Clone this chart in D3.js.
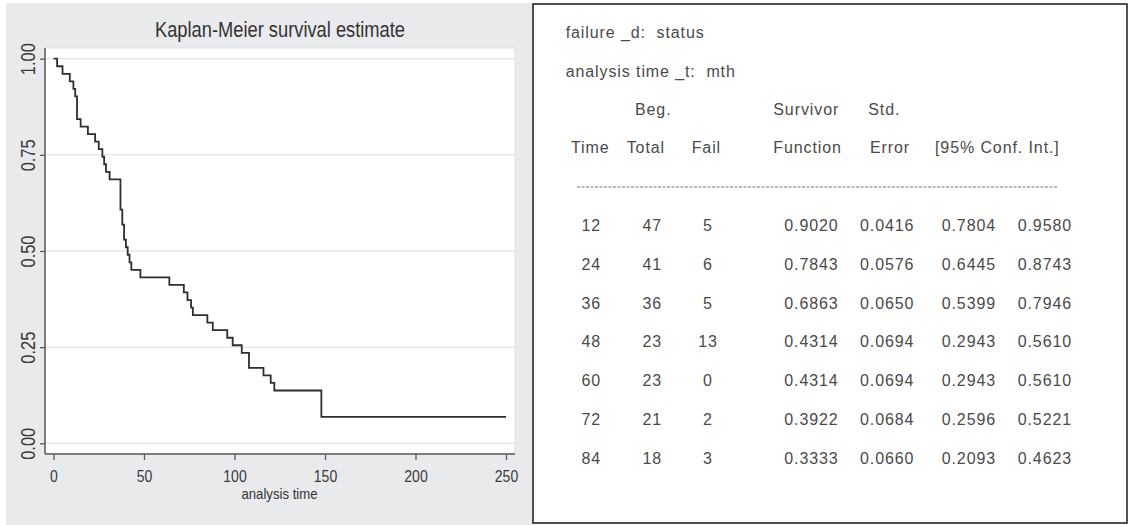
<!DOCTYPE html>
<html>
<head>
<meta charset="utf-8">
<script src="https://cdn.jsdelivr.net/npm/d3@7"></script>
<style>
  body { margin: 0; background: #fff; }
  svg { display: block; }
  .narrow { font-family: "Liberation Sans Narrow", "Arial Narrow", "Liberation Sans", sans-serif; }
  .tbl { font-family: "Liberation Sans", Arial, sans-serif; font-size: 16px; fill: #4a4a4a; letter-spacing: 0.9px; }
</style>
</head>
<body>
<div class="chart"></div>
<script>
// Kaplan-Meier step curve (time, survivor function after events)
var kmTime = [0, 2, 5, 9, 11, 12, 13, 15, 19, 23, 25, 27, 28, 29, 31, 37, 38, 39, 40, 41, 42, 43, 48,
  64, 72, 74, 76, 77, 85, 88, 96, 99, 104, 108, 116, 120, 122, 148, 250];
var kmSurv = [1.0000, 0.9804, 0.9608, 0.9412, 0.9216, 0.9020, 0.8431, 0.8235, 0.8039, 0.7843, 0.7647,
  0.7451, 0.7255, 0.7059, 0.6863, 0.6078, 0.5686, 0.5294, 0.5098, 0.4902, 0.4706, 0.4510, 0.4314,
  0.4118, 0.3922, 0.3725, 0.3529, 0.3333, 0.3137, 0.2941, 0.2745, 0.2549, 0.2353, 0.1961, 0.1765,
  0.1569, 0.1373, 0.0686, 0.0686];

var xTicks = [0, 50, 100, 150, 200, 250];
var yTicks = [0, 0.25, 0.5, 0.75, 1];

// sts list table
var tblTime = [12, 24, 36, 48, 60, 72, 84];
var tblBeg = [47, 41, 36, 23, 23, 21, 18];
var tblFail = [5, 6, 5, 13, 0, 2, 3];
var tblSurv = ["0.9020", "0.7843", "0.6863", "0.4314", "0.4314", "0.3922", "0.3333"];
var tblErr = ["0.0416", "0.0576", "0.0650", "0.0694", "0.0694", "0.0684", "0.0660"];
var tblLo = ["0.7804", "0.6445", "0.5399", "0.2943", "0.2943", "0.2596", "0.2093"];
var tblHi = ["0.9580", "0.8743", "0.7946", "0.5610", "0.5610", "0.5221", "0.4623"];

var svg = d3.select(".chart")
  .append("svg")
  .attr("width", 1129)
  .attr("height", 525);

// ---- left panel: the graph ----
svg.append("rect")
  .attr("x", 6).attr("y", 3)
  .attr("width", 527).attr("height", 522)
  .attr("fill", "#e9eaec");

var plot = { left: 45, right: 515, top: 48, bottom: 454 };

svg.append("rect")
  .attr("x", plot.left).attr("y", plot.top)
  .attr("width", plot.right - plot.left).attr("height", plot.bottom - plot.top)
  .attr("fill", "#fff")
  .attr("stroke", "#dcdde0")
  .attr("stroke-width", 1);

var xScale = d3.scaleLinear().domain([0, 250]).range([53.5, 506]);
var yScale = d3.scaleLinear().domain([0, 1]).range([443.3, 58.7]);

// grid lines
svg.append("g")
  .selectAll("line")
  .data(yTicks)
  .enter()
  .append("line")
  .attr("x1", plot.left).attr("x2", plot.right)
  .attr("y1", d => yScale(d)).attr("y2", d => yScale(d))
  .attr("stroke", "#e6e7e9")
  .attr("stroke-width", 1.5);

// axes
var leftAxis = d3.axisLeft(yScale)
  .tickValues(yTicks)
  .tickFormat(d3.format(".2f"))
  .tickSize(5)
  .tickPadding(0);

var bottomAxis = d3.axisBottom(xScale)
  .tickValues(xTicks)
  .tickSize(6)
  .tickPadding(11);

var gy = svg.append("g")
  .attr("transform", `translate(${plot.left}, 0)`)
  .call(leftAxis);
gy.select(".domain").attr("d", `M0,${plot.top}V${plot.bottom}`);

var gx = svg.append("g")
  .attr("transform", `translate(0, ${plot.bottom})`)
  .call(bottomAxis);
gx.select(".domain").attr("d", `M${plot.left},0H${plot.right}`);

[gx, gy].forEach(function(g) {
  g.select(".domain").attr("stroke", "#5a5a5a").attr("stroke-width", 1.5);
  g.selectAll(".tick line").attr("stroke", "#5a5a5a").attr("stroke-width", 1.3);
});

gx.selectAll(".tick text")
  .attr("class", "narrow")
  .attr("font-size", 16)
  .attr("fill", "#3a3a3a")
  .attr("textLength", d => String(d).length * 7.8)
  .attr("lengthAdjust", "spacingAndGlyphs");

gy.selectAll(".tick text")
  .attr("class", "narrow")
  .attr("font-size", 20)
  .attr("fill", "#3a3a3a")
  .attr("text-anchor", "middle")
  .attr("transform", "rotate(-90)")
  .attr("x", 0)
  .attr("y", -10)
  .attr("dy", 0)
  .attr("textLength", 32)
  .attr("lengthAdjust", "spacingAndGlyphs");

// survival curve
var kmData = kmTime.map((t, i) => ({ t: t, s: kmSurv[i] }));
var stepLine = d3.line()
  .x(d => xScale(d.t))
  .y(d => yScale(d.s))
  .curve(d3.curveStepAfter);

svg.append("path")
  .datum(kmData)
  .attr("d", stepLine)
  .attr("fill", "none")
  .attr("stroke", "#2e2e2e")
  .attr("stroke-width", 1.8);

// titles
svg.append("text")
  .attr("class", "narrow")
  .attr("x", 280).attr("y", 37)
  .attr("text-anchor", "middle")
  .attr("font-size", 22)
  .attr("fill", "#333")
  .attr("textLength", 250)
  .attr("lengthAdjust", "spacingAndGlyphs")
  .text("Kaplan-Meier survival estimate");

svg.append("text")
  .attr("class", "narrow")
  .attr("x", 279.5).attr("y", 499)
  .attr("text-anchor", "middle")
  .attr("font-size", 15)
  .attr("fill", "#333")
  .attr("textLength", 76)
  .attr("lengthAdjust", "spacingAndGlyphs")
  .text("analysis time");

// ---- right panel: the table ----
svg.append("rect")
  .attr("x", 533).attr("y", 4)
  .attr("width", 594).attr("height", 519)
  .attr("fill", "#fff")
  .attr("stroke", "#333")
  .attr("stroke-width", 1.7);

var tbl = svg.append("g").attr("class", "tbl");

var headLines = [
  { x: 565.7, y: 38, s: "failure _d:\u00a0 status" },
  { x: 565.7, y: 76.5, s: "analysis time _t:\u00a0 mth" },
  { x: 635, y: 114.5, s: "Beg." },
  { x: 773.3, y: 114.5, s: "Survivor" },
  { x: 868.3, y: 114.5, s: "Std." },
  { x: 571, y: 153, s: "Time" },
  { x: 626.7, y: 153, s: "Total" },
  { x: 691.7, y: 153, s: "Fail" },
  { x: 773.3, y: 153, s: "Function" },
  { x: 870, y: 153, s: "Error" },
  { x: 935, y: 153, s: "[95% Conf. Int.]" }
];

tbl.selectAll("text.head")
  .data(headLines)
  .enter()
  .append("text")
  .attr("class", "head")
  .attr("x", d => d.x)
  .attr("y", d => d.y)
  .text(d => d.s);

svg.append("line")
  .attr("x1", 577).attr("x2", 1057)
  .attr("y1", 187).attr("y2", 187)
  .attr("stroke", "#777")
  .attr("stroke-width", 1)
  .attr("stroke-dasharray", "3,1.5");

var rowY = d3.scalePoint().domain(tblTime).range([231, 463.5]);

var cols = [
  { vals: tblTime, x: 601, anchor: "end" },
  { vals: tblBeg, x: 662, anchor: "end" },
  { vals: tblFail, x: 708, anchor: "middle" },
  { vals: tblSurv, x: 784.3, anchor: "start" },
  { vals: tblErr, x: 860, anchor: "start" },
  { vals: tblLo, x: 941.7, anchor: "start" },
  { vals: tblHi, x: 1017.7, anchor: "start" }
];

cols.forEach(function(c) {
  tbl.append("g")
    .selectAll("text")
    .data(c.vals)
    .enter()
    .append("text")
    .attr("x", c.x)
    .attr("y", (d, i) => rowY(tblTime[i]))
    .attr("text-anchor", c.anchor)
    .text(d => d);
});
</script>
</body>
</html>
